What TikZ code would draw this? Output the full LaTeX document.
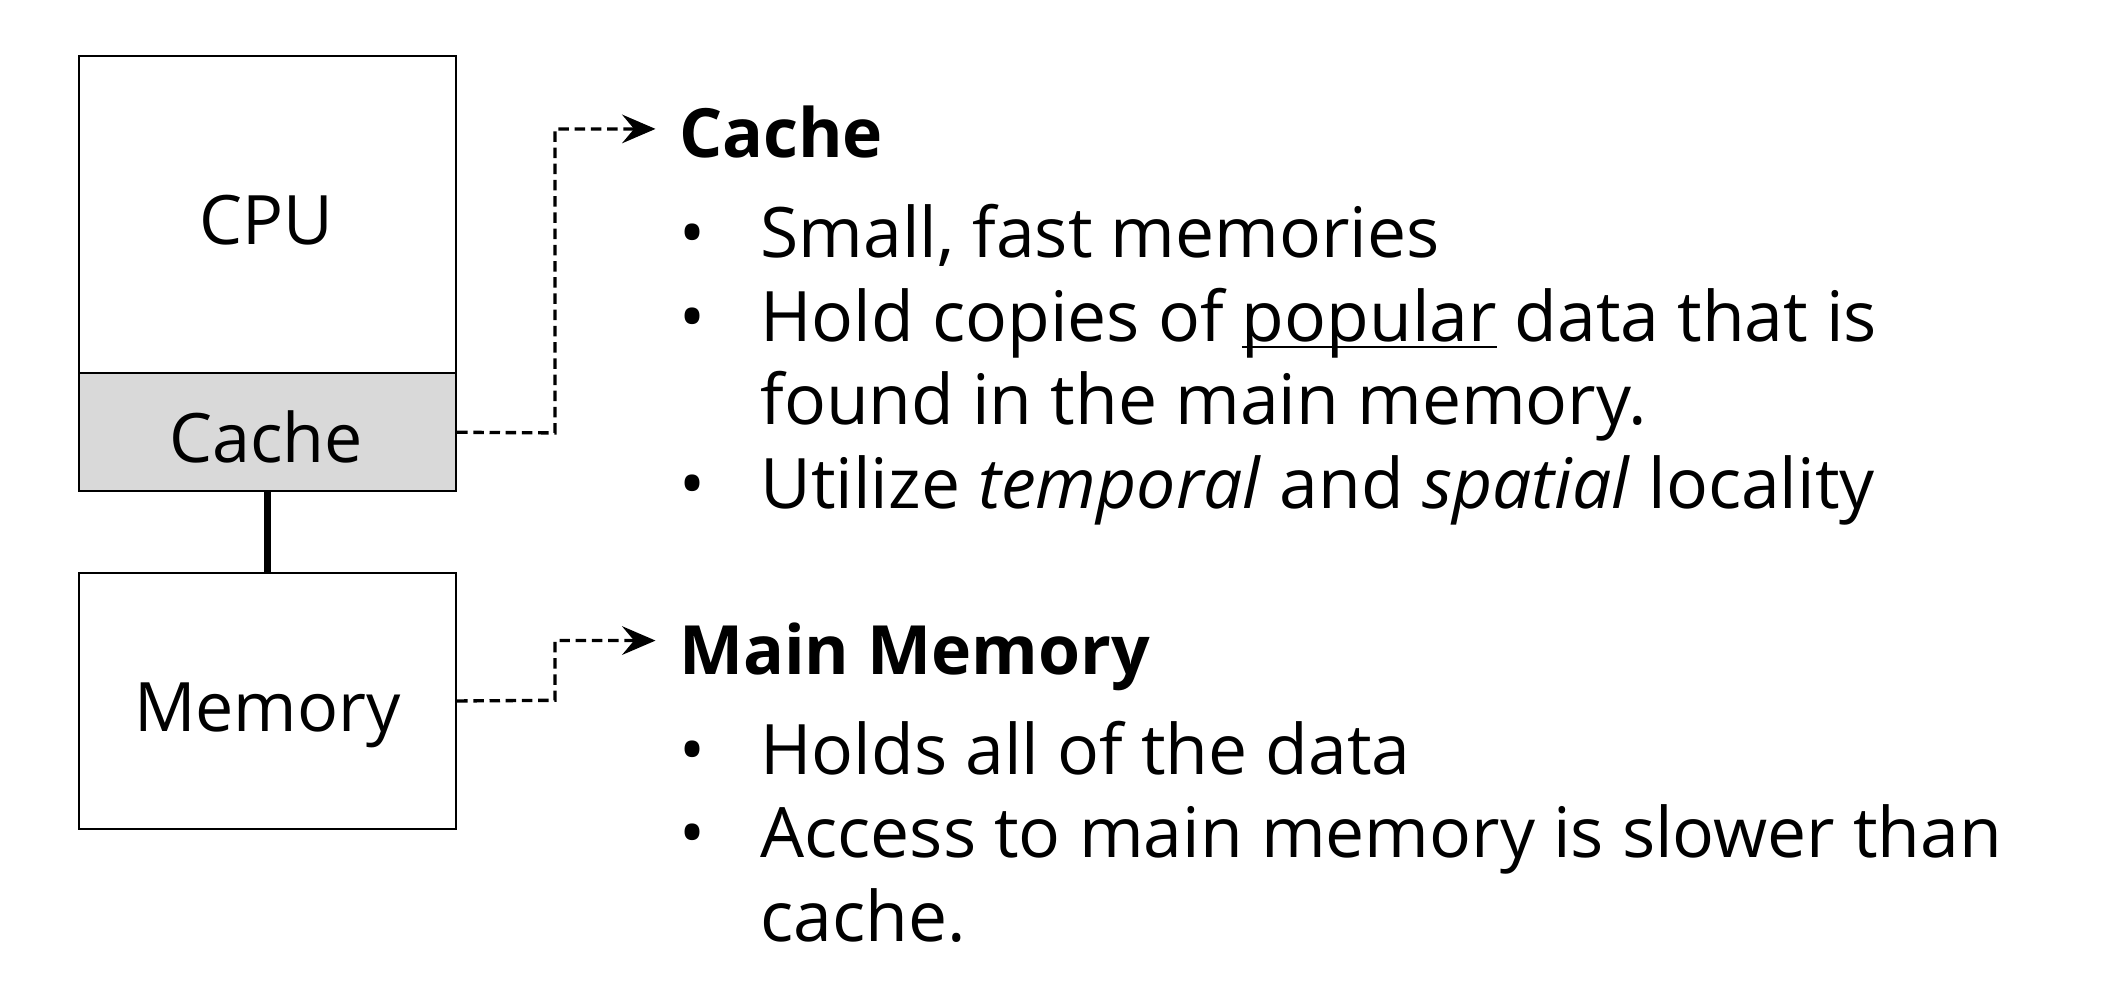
\documentclass[tikz,border=0pt]{standalone}
\usepackage{fontspec}
\setmainfont{Open Sans}
\usetikzlibrary{arrows.meta}
\newcommand\popul[1]{\setbox0\hbox{#1}\rlap{\rule[-0.09em]{\wd0}{1.1pt}}\box0\relax}
\begin{document}
\begin{tikzpicture}[x=0.02cm,y=-0.02cm,
  box/.style={draw=black,line width=0.9pt,minimum width=278*0.02cm,inner sep=0pt},
  lbl/.style={anchor=base,inner sep=0pt,font=\fontsize{28.6}{34}\selectfont},
  link/.style={line width=1.4pt,dash pattern=on 4.4pt off 2.4pt,-{Stealth[length=14pt,width=12pt,inset=5pt]}},
  head/.style={anchor=base west,inner sep=0pt,font=\fontsize{28.5}{34}\selectfont\bfseries},
  body/.style={anchor=base west,inner sep=0pt,font=\fontsize{29.2}{35}\selectfont},
  bul/.style={anchor=base,inner sep=0pt,font=\fontsize{29}{35}\selectfont}]
\useasboundingbox (0,0) rectangle (1568,736);
% boxes
\node[box,minimum height=234*0.02cm] (cpu) at (197,158) {};
\node[lbl] (cpul) at (196,180) {CPU};
\node[box,fill=black!15,minimum height=87*0.02cm] (cache) at (197,318.5) {};
\node[lbl] (cachel) at (196,341) {Cache};
\node[box,minimum height=189*0.02cm] (mem) at (197,516.5) {};
\node[lbl] (meml) at (197,539) {Memory};
\draw[line width=2.7pt] (cache.south) -- (mem.north);
% headings
\node[head] (h1) at (500,116) {Cache};
\node[head] (h2) at (500,497) {Main Memory};
\coordinate (t1) at (483,95);
\coordinate (t2) at (483,472);
\draw[link] (cache.east) -- (409,319) |- (t1);
\draw[link] (mem.east) -- (409,516) |- (t2);
% cache bullets
\node[bul] (c1b) at (510,190) {•};
\node[body] (c1) at (560,190) {Small, fast memories};
\node[bul] (c2b) at (510,252) {•};
\node[body] (c2) at (560,252) {Hold copies of \popul{popular} data that is};
\node[body] (c2x) at (560,313) {found in the main memory.};
\node[bul] (c3b) at (510,375) {•};
\node[body] (c3) at (560,375) {Utilize \textit{temporal} and \textit{spatial} locality};
% memory bullets
\node[bul] (m1b) at (510,571) {•};
\node[body] (m1) at (560,571) {Holds all of the data};
\node[bul] (m2b) at (510,632) {•};
\node[body] (m2) at (560,632) {Access to main memory is slower than};
\node[body] (m2x) at (560,694) {cache.};
\end{tikzpicture}
\end{document}
